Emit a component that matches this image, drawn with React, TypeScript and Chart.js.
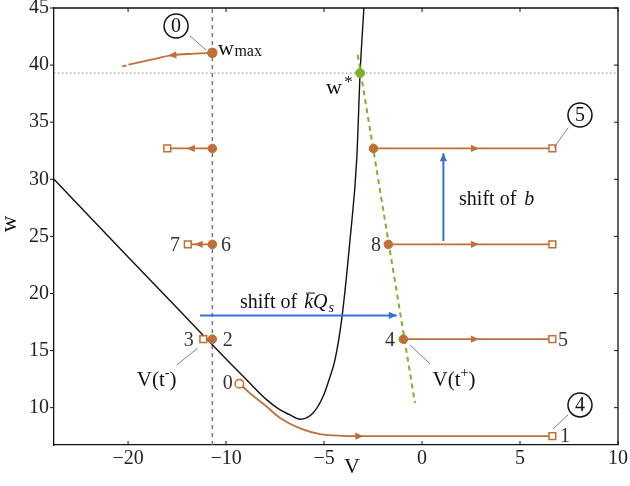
import React, { useEffect, useRef } from "react";
import { Chart, registerables } from "chart.js";
Chart.register(...registerables);

// ---------- axes ----------
const X_MIN = -18.78;
const X_MAX = 10;
const Y_MIN = 6.73;
const Y_MAX = 45;
const xTickValues = [-15, -10, -5, 0, 5, 10];
const xTickLabels = ["−20", "−10", "−5", "0", "5", "10"];
const yTickValues = [10, 15, 20, 25, 30, 35, 40, 45];

// ---------- data ----------
const nullclineV = [-18.78, -15, -12.35, -11.33, -10.82, -9.8, -8.94, -7.92, -7.24, -6.73, -6.22, -5.56, -5.05, -4.69, -4.44, -4.1, -3.67, -3.33, -3.16, -2.96];
const nullclineW = [30.0, 23.2, 18.46, 16.62, 15.72, 13.92, 12.42, 10.68, 9.8, 9.36, 8.98, 9.53, 10.97, 12.73, 14.2, 17.73, 24.78, 31.82, 39.3, 45.2];

const trajV = [-9.32, -8.8, -8.0, -7.24, -6.22, -5.2, -4.0, -3.0, 6.65];
const trajW = [12.1, 11.3, 10.2, 9.1, 8.18, 7.68, 7.53, 7.5, 7.5];

const wmaxV = [-10.7, -11.6, -12.74, -13.88, -14.98];
const wmaxW = [41.08, 41.0, 40.87, 40.45, 40.04];
const wmaxDashV = [-15.08, -15.3];
const wmaxDashW = [39.98, 39.88];

const resetV = -10.7;
const wStarV = -3.16;
const wStar = 39.3;
const greenLineV = [-3.28, -0.36];
const greenLineW = [40.9, 10.4];

const levelW = [16.0, 24.3, 32.7];
const rightStartV = [-0.95, -1.72, -2.48];
const rightEndV = 6.65;
const leftEndV = [-11.16, -11.95, -13.0];

const kqShiftV = [-11.33, -1.29];
const kqShiftW = [18.08, 18.08];
const bShiftV = [1.09, 1.09];
const bShiftW = [24.6, 32.28];

// arrowheads: position and direction (data units)
const orangeArrowV = [2.7, 2.7, 2.7, -3.2, -11.8, -11.4, -12.74];
const orangeArrowW = [16.0, 24.3, 32.7, 7.5, 32.7, 24.3, 40.87];
const orangeArrowDV = [1, 1, 1, 1, -1, -1, -1];
const orangeArrowDW = [0, 0, 0, 0, 0, 0, -0.12];

const ORANGE = "#bf6f38";
const GREEN = "#7cb32c";
const BLUE = "#3b6fd0";
const GRAY = "#808080";
const TXT = "#333333";
const FONT = "'Liberation Serif', 'DejaVu Serif', serif";

const pts = (xs: number[], ys: number[]) => xs.map((x, i) => ({ x, y: ys[i] }));

const overlay = {
  id: "overlay",
  afterDatasetsDraw(chart: any) {
    const { ctx, chartArea: a, scales } = chart;
    const X = (v: number) => scales.x.getPixelForValue(v);
    const Y = (w: number) => scales.y.getPixelForValue(w);
    const line = (x1: number, y1: number, x2: number, y2: number) => {
      ctx.beginPath();
      ctx.moveTo(x1, y1);
      ctx.lineTo(x2, y2);
      ctx.stroke();
    };
    const text = (t: string, px: number, py: number, size: number, opt: any = {}) => {
      ctx.font = `${opt.italic ? "italic " : ""}${size}px ${FONT}`;
      ctx.fillStyle = opt.color || TXT;
      ctx.textAlign = opt.align || "center";
      ctx.textBaseline = opt.baseline || "middle";
      ctx.fillText(t, px, py);
      return ctx.measureText(t).width;
    };
    const head = (v: number, w: number, dv: number, dw: number, color: string) => {
      const px = X(v), py = Y(w);
      const ang = Math.atan2(Y(w + dw) - py, X(v + dv) - px);
      const L = 8, H = 3.6;
      ctx.save();
      ctx.translate(px, py);
      ctx.rotate(ang);
      ctx.fillStyle = color;
      ctx.beginPath();
      ctx.moveTo(L / 2, 0);
      ctx.lineTo(-L / 2, -H);
      ctx.lineTo(-L / 2, H);
      ctx.closePath();
      ctx.fill();
      ctx.restore();
    };
    ctx.save();

    // frame top/right
    ctx.strokeStyle = "#111";
    ctx.lineWidth = 1.3;
    ctx.beginPath();
    ctx.moveTo(a.left, a.top);
    ctx.lineTo(a.right, a.top);
    ctx.lineTo(a.right, a.bottom);
    ctx.stroke();
    const tl = 4;
    ctx.lineWidth = 1;
    xTickValues.forEach((v) => {
      const px = X(v);
      line(px, a.bottom, px, a.bottom - tl);
      line(px, a.top, px, a.top + tl);
    });
    yTickValues.forEach((w) => {
      const py = Y(w);
      line(a.left, py, a.left - tl, py);
      line(a.right, py, a.right - tl, py);
    });

    // arrowheads
    orangeArrowV.forEach((v, i) => head(v, orangeArrowW[i], orangeArrowDV[i], orangeArrowDW[i], ORANGE));
    head(kqShiftV[1] - 0.2, kqShiftW[1], 1, 0, BLUE);
    head(bShiftV[1], bShiftW[1] - 0.35, 0, 1, BLUE);

    // leader lines
    ctx.strokeStyle = GRAY;
    ctx.lineWidth = 1;
    line(X(-11.84), Y(42.55), X(-11.02), Y(41.32));
    line(X(6.73), Y(32.77), X(7.45), Y(34.49));
    line(X(6.68), Y(8.13), X(7.45), Y(9.36));
    line(X(-11.46), Y(15.2), X(-12.52), Y(13.74));
    line(X(-0.61), Y(15.49), X(0.41), Y(13.83));

    // circled numbers
    const circled = (t: string, v: number, w: number) => {
      ctx.strokeStyle = "#111";
      ctx.lineWidth = 1.5;
      ctx.beginPath();
      ctx.arc(X(v), Y(w), 12, 0, Math.PI * 2);
      ctx.stroke();
      text(t, X(v), Y(w) + 1, 20, { color: "#111" });
    };
    circled("0", -12.55, 43.42);
    circled("5", 8.06, 35.63);
    circled("4", 8.06, 10.24);

    // point numbers
    const nums: [string, number, number][] = [
      ["7", -12.6, 24.15], ["6", -10.0, 24.15], ["8", -2.35, 24.15],
      ["3", -11.9, 15.84], ["2", -9.92, 15.84], ["0", -9.92, 12.08],
      ["4", -1.63, 15.84], ["5", 7.19, 15.84], ["1", 7.3, 7.43],
    ];
    nums.forEach(([t, v, w]) => text(t, X(v), Y(w), 20));

    // w_max
    let x0 = X(-10.41);
    let wdt = text("w", x0, Y(40.88), 22, { align: "left", baseline: "alphabetic", color: "#111" });
    text("max", x0 + wdt + 0.5, Y(40.88) + 1, 16, { align: "left", baseline: "alphabetic", color: "#111" });

    // w*
    text("w", X(-4.5), Y(38.0), 22, { color: "#111" });
    text("*", X(-3.75), Y(38.45), 17, { color: "#111" });

    // V(t-) and V(t+)
    const vt = (sign: string, v: number, w: number) => {
      ctx.font = `21px ${FONT}`;
      const w1 = ctx.measureText("V(t").width;
      ctx.font = `14px ${FONT}`;
      const w2 = ctx.measureText(sign).width;
      ctx.font = `21px ${FONT}`;
      const w3 = ctx.measureText(")").width;
      const total = w1 + w2 + w3;
      const sx = X(v) - total / 2;
      const base = Y(w) + 7;
      text("V(t", sx, base, 21, { align: "left", baseline: "alphabetic", color: "#111" });
      text(sign, sx + w1, base - 9, 14, { align: "left", baseline: "alphabetic", color: "#111" });
      text(")", sx + w1 + w2, base, 21, { align: "left", baseline: "alphabetic", color: "#111" });
    };
    vt("-", -13.54, 12.51);
    vt("+", 1.63, 12.51);

    // shift of kQs
    x0 = X(-9.29);
    const by = Y(18.72);
    wdt = text("shift of ", x0, by, 20, { align: "left", baseline: "alphabetic", color: "#111" });
    let cx = x0 + wdt + 2;
    const kw = text("k", cx, by, 20, { align: "left", baseline: "alphabetic", italic: true, color: "#111" });
    ctx.strokeStyle = "#111";
    ctx.lineWidth = 1;
    line(cx + 2, by - 15, cx + kw + 2, by - 15);
    cx += kw;
    const qw = text("Q", cx, by, 20, { align: "left", baseline: "alphabetic", italic: true, color: "#111" });
    cx += qw;
    text("s", cx + 1, by + 4, 14, { align: "left", baseline: "alphabetic", italic: true, color: "#111" });

    // shift of b
    x0 = X(1.89);
    const by2 = Y(27.76);
    wdt = text("shift of ", x0, by2, 20, { align: "left", baseline: "alphabetic", color: "#111" });
    text("b", x0 + wdt + 3, by2, 20, { align: "left", baseline: "alphabetic", italic: true, color: "#111" });

    // axis titles
    text("V", (a.left + a.right) / 2 + 16, 467, 22, { color: "#111" });
    ctx.save();
    ctx.translate(10, 224);
    ctx.rotate(-Math.PI / 2);
    text("w", 0, 0, 23, { color: "#111" });
    ctx.restore();

    ctx.restore();
  },
};

export default function App() {
  const ref = useRef<HTMLCanvasElement>(null);
  useEffect(() => {
    const canvas = ref.current!;
    const seg = (xs: number[], ys: number[], color: string, extra: any = {}) => ({
      data: pts(xs, ys),
      showLine: true,
      borderColor: color,
      borderWidth: 1.8,
      pointRadius: 0,
      ...extra,
    });
    const markerSeg = (x1: number, x2: number, w: number) =>
      seg([x1, x2], [w, w], ORANGE, {
        pointRadius: [4.3, 4.8],
        pointStyle: ["circle", "rect"],
        pointBackgroundColor: [ORANGE, "#ffffff"],
        pointBorderColor: ORANGE,
        pointBorderWidth: [1, 1.5],
      });
    const datasets: any[] = [
      {
        data: [{ x: wStarV, y: wStar }],
        pointRadius: 4.5,
        pointBackgroundColor: GREEN,
        pointBorderColor: GREEN,
        showLine: false,
      },
      ...levelW.map((w, i) => markerSeg(rightStartV[i], rightEndV, w)),
      ...levelW.map((w, i) => markerSeg(resetV, leftEndV[i], w)),
      seg(trajV, trajW, ORANGE, {
        cubicInterpolationMode: "monotone",
        pointRadius: trajV.map((_, i) => (i === 0 ? 4.3 : i === trajV.length - 1 ? 4.8 : 0)),
        pointStyle: trajV.map((_, i) => (i === trajV.length - 1 ? "rect" : "circle")),
        pointBackgroundColor: "#ffffff",
        pointBorderColor: ORANGE,
        pointBorderWidth: 1.5,
      }),
      seg(wmaxV, wmaxW, ORANGE, {
        cubicInterpolationMode: "monotone",
        pointRadius: wmaxV.map((_, i) => (i === 0 ? 4.3 : 0)),
        pointBackgroundColor: ORANGE,
        pointBorderColor: ORANGE,
      }),
      seg(wmaxDashV, wmaxDashW, ORANGE),
      seg(kqShiftV, kqShiftW, BLUE, { borderWidth: 2 }),
      seg(bShiftV, bShiftW, BLUE, { borderWidth: 2 }),
      seg(greenLineV, greenLineW, GREEN, { borderWidth: 2, borderDash: [5, 4] }),
      seg(nullclineV, nullclineW, "#111111", { borderWidth: 1.4, cubicInterpolationMode: "monotone" }),
      seg([X_MIN, X_MAX], [wStar, wStar], "#8a8a8a", { borderWidth: 1, borderDash: [1.5, 2.5] }),
      seg([resetV, resetV], [Y_MIN, Y_MAX], "#777777", { borderWidth: 1.5, borderDash: [4, 4] }),
    ];
    const chart = new Chart(canvas, {
      type: "scatter",
      data: { datasets },
      options: {
        animation: false,
        responsive: false,
        devicePixelRatio: 1,
        layout: { padding: { left: 0, right: 12, top: 8, bottom: 0 } },
        plugins: { legend: { display: false }, tooltip: { enabled: false } },
        scales: {
          x: {
            type: "linear",
            min: X_MIN,
            max: X_MAX,
            afterBuildTicks: (s: any) => {
              s.ticks = xTickValues.map((v) => ({ value: v }));
            },
            afterFit: (s: any) => {
              s.height = 41;
              s.paddingLeft = 0;
              s.paddingRight = 0;
            },
            grid: { display: false, drawTicks: false },
            border: { display: true, color: "#111", width: 1.3 },
            ticks: {
              padding: 2,
              autoSkip: false,
              maxRotation: 0,
              color: "#222",
              font: { family: FONT, size: 20 },
              callback: (v: any) => {
                const i = xTickValues.indexOf(Number(v));
                return i >= 0 ? xTickLabels[i] : "";
              },
            },
          },
          y: {
            type: "linear",
            min: Y_MIN,
            max: Y_MAX,
            afterBuildTicks: (s: any) => {
              s.ticks = yTickValues.map((v) => ({ value: v }));
            },
            afterFit: (s: any) => {
              s.width = 54;
              s.paddingTop = 0;
              s.paddingBottom = 0;
            },
            grid: { display: false, drawTicks: false },
            border: { display: true, color: "#111", width: 1.3 },
            ticks: {
              padding: 5,
              color: "#222",
              font: { family: FONT, size: 20 },
              callback: (v: any) => String(v),
            },
          },
        },
      },
      plugins: [overlay],
    } as any);
    return () => chart.destroy();
  }, []);
  return (
    <div style={{ position: "absolute", left: 0, top: 0, width: 630, height: 486, background: "#fff" }}>
      <canvas ref={ref} width={630} height={486} style={{ display: "block" }} />
    </div>
  );
}
